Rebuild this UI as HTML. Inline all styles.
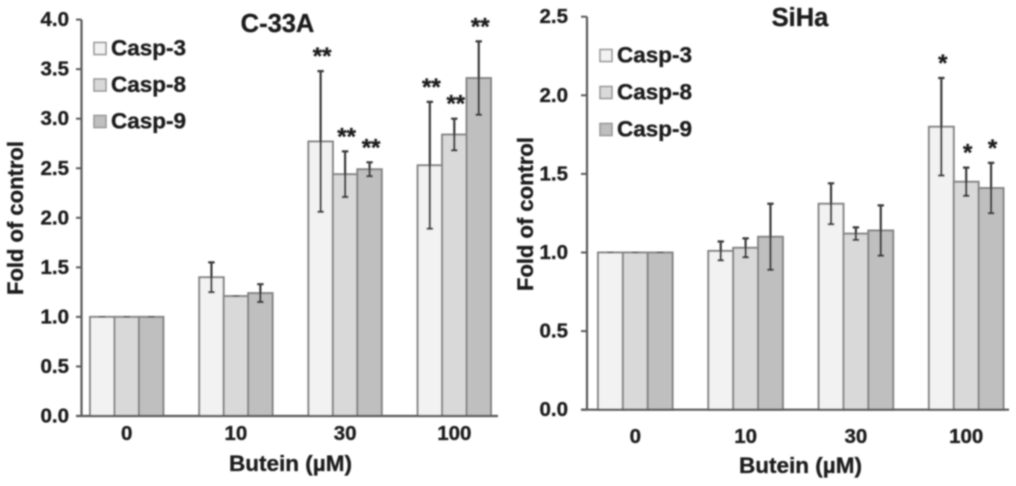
<!DOCTYPE html>
<html>
<head>
<meta charset="utf-8">
<style>
html,body{margin:0;padding:0;background:#fff;width:1016px;height:486px;overflow:hidden}
svg{display:block}
text{font-family:"Liberation Sans",sans-serif;font-weight:bold;fill:#1f1f1f;stroke:#1f1f1f;stroke-width:0.35px}
</style>
</head>
<body>
<svg id="root" width="1016" height="486" viewBox="0 0 1016 486">
  <defs><filter id="soft" x="-5%" y="-5%" width="110%" height="110%"><feGaussianBlur stdDeviation="0.7"/></filter></defs>
  <g filter="url(#soft)">
    <g id="chart-a">
      <text x="277.5" y="32" font-size="25.5" text-anchor="middle">C-33A</text>
      <text transform="translate(23,218) rotate(-90)" font-size="22" text-anchor="middle">Fold of control</text>
      <text x="290.5" y="471" font-size="22.5" text-anchor="middle">Butein (µM)</text>
    </g>
    <g id="chart-b">
      <text x="800" y="26" font-size="25.5" text-anchor="middle">SiHa</text>
      <text transform="translate(533,214) rotate(-90)" font-size="22" text-anchor="middle">Fold of control</text>
      <text x="800.5" y="473" font-size="22.5" text-anchor="middle">Butein (µM)</text>
    </g>
  </g>
</svg>
<script>
const categories = ['0', '10', '30', '100'];
const seriesNames = ['Casp-3', 'Casp-8', 'Casp-9'];
const seriesFills = ['#f2f2f2', '#d9d9d9', '#bfbfbf'];

const c33aTicks = ['0.0', '0.5', '1.0', '1.5', '2.0', '2.5', '3.0', '3.5', '4.0'];
const c33aCasp3 = [1.0, 1.40, 2.77, 2.53];
const c33aCasp8 = [1.0, 1.21, 2.44, 2.84];
const c33aCasp9 = [1.0, 1.24, 2.49, 3.41];
const c33aErr3 = [0, 0.15, 0.71, 0.64];
const c33aErr8 = [0, 0, 0.23, 0.16];
const c33aErr9 = [0, 0.09, 0.07, 0.37];
const c33aSig3 = ['', '', '**', '**'];
const c33aSig8 = ['', '', '**', '**'];
const c33aSig9 = ['', '', '**', '**'];

const sihaTicks = ['0.0', '0.5', '1.0', '1.5', '2.0', '2.5'];
const sihaCasp3 = [1.0, 1.01, 1.31, 1.80];
const sihaCasp8 = [1.0, 1.03, 1.12, 1.45];
const sihaCasp9 = [1.0, 1.10, 1.14, 1.41];
const sihaErr3 = [0, 0.06, 0.13, 0.31];
const sihaErr8 = [0, 0.06, 0.04, 0.09];
const sihaErr9 = [0, 0.21, 0.16, 0.16];
const sihaSig3 = ['', '', '', '*'];
const sihaSig8 = ['', '', '', '*'];
const sihaSig9 = ['', '', '', '*'];

const NS = 'http://www.w3.org/2000/svg';
function make(parent, tag, attrs, content) {
  const el = document.createElementNS(NS, tag);
  for (const k in attrs) el.setAttribute(k, attrs[k]);
  if (content !== undefined) el.textContent = content;
  parent.appendChild(el);
  return el;
}

function drawChart(cfg) {
  const g = document.getElementById(cfg.id);
  const y = v => cfg.y0 - v * cfg.unit;
  const barW = cfg.groupW / 3;
  const groupX = i => cfg.x0 + i * cfg.step;

  cfg.values.forEach((vals, s) => {
    vals.forEach((v, i) => {
      const bx = groupX(i) + s * barW;
      const bar = make(g, 'rect', {x: bx, y: y(v), width: barW, height: cfg.y0 - y(v), fill: seriesFills[s], stroke: '#858585', 'stroke-width': 2});
      
      
    });
  });

  cfg.values.forEach((vals, s) => {
    vals.forEach((v, i) => {
      const cx = groupX(i) + (s + 0.5) * barW;
      const e = cfg.errors[s][i];
      const d = 'M' + cx + ' ' + y(v + e) + 'V' + y(v - e) +
        'M' + (cx - 3.2) + ' ' + y(v + e) + 'H' + (cx + 3.2) +
        'M' + (cx - 3.2) + ' ' + y(v - e) + 'H' + (cx + 3.2);
      const err = make(g, 'path', {d: d, fill: 'none', stroke: '#3a3a3a', 'stroke-width': e > 0 ? 2.2 : 1});
      
      
      const sig = cfg.sig[s][i];
      if (sig) {
        const star = make(g, 'text', {x: cx + 1.5, y: y(v + e) - 20 + 13, 'font-size': 24, 'text-anchor': 'middle'}, sig);
        
        
      }
    });
  });

  const yAxis = make(g, 'line', {x1: cfg.axisX, x2: cfg.axisX, y1: y(cfg.max), y2: cfg.y0, stroke: '#5a5a5a', 'stroke-width': 2.2});
  
  
  const xAxis = make(g, 'line', {x1: cfg.tickX, x2: cfg.axisEnd, y1: cfg.y0, y2: cfg.y0, stroke: '#5a5a5a', 'stroke-width': 2.2});
  
  

  cfg.ticks.forEach(t => {
    const v = parseFloat(t);
    const tick = make(g, 'line', {x1: cfg.tickX, x2: cfg.axisX, y1: y(v), y2: y(v), stroke: '#5a5a5a', 'stroke-width': 2});
    
    
    const label = make(g, 'text', {x: cfg.labelX, y: y(v) + 6.5, 'font-size': 20.5, 'text-anchor': 'end'}, t);
    
    
  });

  categories.forEach((c, i) => {
    const label = make(g, 'text', {x: groupX(i) + cfg.groupW / 2, y: cfg.catY, 'font-size': 20.5, 'text-anchor': 'middle'}, c);
    
    
  });

  seriesNames.forEach((n, s) => {
    const ly = cfg.legendY + s * cfg.legendStep;
    const swatch = make(g, 'rect', {x: cfg.legendX, y: ly - 6, width: 12, height: 12, fill: seriesFills[s], stroke: '#9a9a9a', 'stroke-width': 1.6});
    
    
    const label = make(g, 'text', {x: cfg.legendX + 17, y: ly + 7, 'font-size': 22.5}, n);
    
    
  });
}

drawChart({
  id: 'chart-a', key: 'c33a', y0: 416, unit: 99.1, max: 4, x0: 90, step: 109.2, groupW: 73.4,
  axisX: 81.5, tickX: 76, axisEnd: 498, labelX: 69, catY: 440,
  legendX: 94, legendY: 48.5, legendStep: 36.5,
  ticks: c33aTicks,
  values: [c33aCasp3, c33aCasp8, c33aCasp9],
  errors: [c33aErr3, c33aErr8, c33aErr9],
  sig: [c33aSig3, c33aSig8, c33aSig9]
});
drawChart({
  id: 'chart-b', key: 'siha', y0: 409.7, unit: 157.2, max: 2.5, x0: 598, step: 110.3, groupW: 74.6,
  axisX: 587, tickX: 581, axisEnd: 1009, labelX: 568, catY: 443,
  legendX: 600, legendY: 55.5, legendStep: 37,
  ticks: sihaTicks,
  values: [sihaCasp3, sihaCasp8, sihaCasp9],
  errors: [sihaErr3, sihaErr8, sihaErr9],
  sig: [sihaSig3, sihaSig8, sihaSig9]
});
</script>
</body>
</html>
